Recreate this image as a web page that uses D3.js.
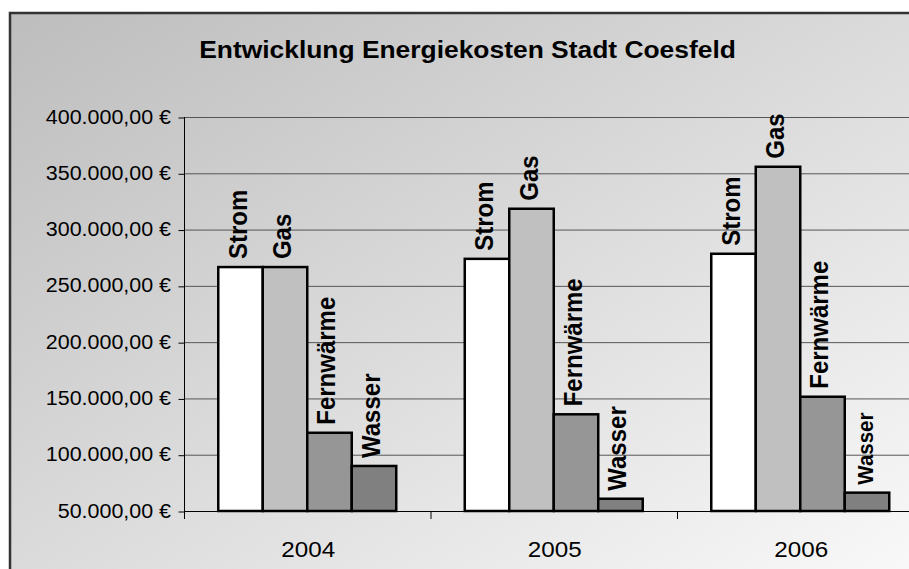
<!DOCTYPE html>
<html>
<head>
<meta charset="utf-8">
<script src="https://cdn.jsdelivr.net/npm/d3@7"></script>
<style>
  body { margin: 0; background: #fff; }
  text { font-family: "Liberation Sans", Arial, sans-serif; fill: #000; }
</style>
</head>
<body>
<div id="chart"></div>
<script>
// Energiekosten Stadt Coesfeld, Werte aus dem Bild geschätzt
let years = ["2004", "2005", "2006"];
let series = ["Strom", "Gas", "Fernwärme", "Wasser"];
let strom = [266700, 274000, 278500];
let gas = [266700, 318500, 355800];
let fernwaerme = [119500, 135900, 151500];
let wasser = [90000, 60900, 66300];
let yTicks = [50000, 100000, 150000, 200000, 250000, 300000, 350000, 400000];

let values = [strom, gas, fernwaerme, wasser];
let colors = ["#ffffff", "#c0c0c0", "#969696", "#808080"];

let width = 909, height = 569;
let stretch = 1.1; // Bild ist horizontal etwas gestreckt

let svg = d3.select("#chart").append("svg")
    .attr("width", width)
    .attr("height", height);

// Hintergrund mit Verlauf
let grad = svg.append("defs").append("linearGradient")
    .attr("id", "bg")
    .attr("x1", 0).attr("y1", 0).attr("x2", 1).attr("y2", 1);
grad.append("stop").attr("offset", "0%").attr("stop-color", "#bdbdbd");
grad.append("stop").attr("offset", "100%").attr("stop-color", "#ffffff");

svg.append("rect")
    .attr("x", 10).attr("y", 13)
    .attr("width", 1000).attr("height", 620)
    .attr("fill", "url(#bg)")
    .attr("stroke", "#333")
    .attr("stroke-width", 2.5);

// Skalen
let y = d3.scaleLinear().domain([50000, 400000]).range([511, 117]);
let x0 = d3.scaleBand().domain(years).range([184, 923.5]).padding(0);
let x1 = d3.scaleBand().domain(series).range([0, x0.bandwidth()]).paddingInner(0).paddingOuter(0.77);

let fmt = function (v) {
    return d3.format(",.2f")(v).replace(/,/g, "#").replace(".", ",").replace(/#/g, ".") + " €";
};

// Gitternetz
svg.append("g")
    .selectAll("line")
    .data(yTicks.slice(1))
    .enter()
    .append("line")
    .attr("x1", 184).attr("x2", width)
    .attr("y1", d => y(d) + 0.5).attr("y2", d => y(d) + 0.5)
    .attr("stroke", "#555")
    .attr("stroke-width", 1);

// Y-Achse
let yAxis = svg.append("g")
    .attr("transform", "translate(184.5,0)")
    .call(d3.axisLeft(y).tickValues(yTicks).tickSize(6).tickFormat(""));
yAxis.select(".domain").attr("d", "M0,117V519");
yAxis.selectAll("line").attr("transform", "translate(0,0.5)");

svg.append("g")
    .selectAll("text")
    .data(yTicks)
    .enter()
    .append("text")
    .attr("transform", d => "translate(171," + (y(d) + 6.5) + ") scale(" + stretch + ",1)")
    .attr("text-anchor", "end")
    .style("font-size", "19.5px")
    .text(fmt);

// X-Achse
let xAxis = svg.append("g")
    .attr("transform", "translate(0,511.5)")
    .call(d3.axisBottom(x0).tickSize(0).tickFormat(""));
xAxis.select(".domain").attr("d", "M184," + 0 + "H" + width);
svg.append("g")
    .selectAll("line")
    .data(years.concat(["end"]))
    .enter()
    .append("line")
    .attr("x1", (d, i) => 184.5 + i * x0.step())
    .attr("x2", (d, i) => 184.5 + i * x0.step())
    .attr("y1", 511).attr("y2", 519)
    .attr("stroke", "#000");

svg.append("g")
    .selectAll("text")
    .data(years)
    .enter()
    .append("text")
    .attr("transform", d => "translate(" + (x0(d) + x0.bandwidth() / 2 + 1) + ",556.5) scale(" + stretch + ",1)")
    .attr("text-anchor", "middle")
    .style("font-size", "22px")
    .text(d => d);

// Balken
let rows = [];
years.forEach(function (yr, i) {
    series.forEach(function (s, j) {
        rows.push({ year: yr, name: s, value: values[j][i], color: colors[j], yi: i, si: j });
    });
});

let groups = svg.append("g");
groups.selectAll("rect")
    .data(rows)
    .enter()
    .append("rect")
    .attr("x", d => x0(d.year) + x1(d.name))
    .attr("y", d => y(d.value))
    .attr("width", x1.bandwidth())
    .attr("height", d => y(50000) - y(d.value))
    .attr("fill", d => d.color)
    .attr("stroke", "#000")
    .attr("stroke-width", 2.5);

// Beschriftung der Balken (letzte ist kleiner wie im Original)
groups.selectAll("text")
    .data(rows)
    .enter()
    .append("text")
    .attr("transform", function (d) {
        let cx = x0(d.year) + x1(d.name) + x1.bandwidth() / 2 + 6;
        return "translate(" + cx + "," + (y(d.value) - 8) + ") scale(" + stretch + ",1) rotate(-90)";
    })
    .attr("text-anchor", "start")
    .style("font-weight", "bold")
    .style("font-size", d => (d.yi == 2 && d.si == 3) ? "20.5px" : "24px")
    .text(d => d.name);

// Titel
svg.append("text")
    .attr("transform", "translate(467.5,58) scale(" + stretch + ",1)")
    .attr("text-anchor", "middle")
    .style("font-weight", "bold")
    .style("font-size", "24px")
    .text("Entwicklung Energiekosten Stadt Coesfeld");
</script>
</body>
</html>
